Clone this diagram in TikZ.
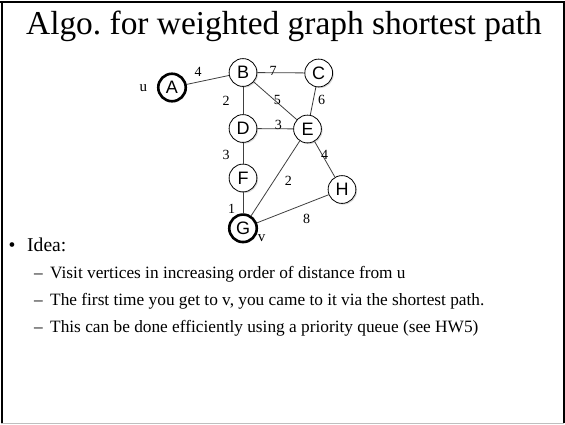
\documentclass[tikz,border=0pt]{standalone}
\usepackage{fontspec}
\setmainfont{Liberation Serif}
\newfontfamily\vertexfont{Liberation Sans}
\usetikzlibrary{shadows}
\frenchspacing
\tikzset{
    vertex/.style = {draw, circle, fill=white, line width=0.8pt, minimum size=27.8pt, inner sep=0pt, font=\vertexfont\fontsize{18}{18}\selectfont, drop shadow={shadow xshift=1.2pt, shadow yshift=-1.2pt, opacity=0.3}},
    end-vertex/.style = {vertex, line width=2.6pt, minimum size=27.5pt},
    weight/.style = {font=\fontsize{14}{14}\selectfont, inner sep=0pt},
    edge/.style = {draw=black!75, line width=0.8pt},
    item/.style = {anchor=base west, inner sep=0pt, font=\fontsize{17.3}{17.3}\selectfont},
}

\begin{document}
\begin{tikzpicture}[x=1pt, y=-1pt]
% slide frame
\useasboundingbox (0,0) rectangle (565,424);
\fill[white] (0,0) rectangle (565,424);
\draw[black!25, line width=1.2pt] (1,423.4) -- (564,423.4);
\draw[black, line width=1.2pt] (564,1) -- (564,423);
\draw[black, line width=2pt] (1.5,2) -- (1.5,423);
\draw[black, line width=2.4pt] (0,2) -- (565,2);
% title
\node[anchor=base, inner sep=0pt, font=\fontsize{33.4}{33.4}\selectfont] (title) at (284,34) {Algo. for weighted graph shortest path};
% vertices
\node[end-vertex] (A) at (172,87.5) {A};
\node[vertex] (B) at (243,72.5) {B};
\node[vertex] (C) at (318.7,73) {C};
\node[vertex] (D) at (243,128.5) {D};
\node[vertex] (E) at (307.5,129) {E};
\node[vertex] (F) at (243,178) {F};
\node[vertex] (H) at (342,189.5) {H};
\node[end-vertex] (G) at (243,228.3) {G};
\node[weight, font=\fontsize{15}{15}\selectfont] (u) at (143.3,88.5) {u};
\node[weight, font=\fontsize{15}{15}\selectfont] (v) at (261.5,238.5) {v};
% edges
\path[edge] (A) -- (B);
\path[edge] (B) -- (C);
\path[edge] (B) -- (D);
\path[edge] (B) -- (E);
\path[edge] (C) -- (E);
\path[edge] (D) -- (E);
\path[edge] (D) -- (F);
\path[edge] (E) -- (H);
\path[edge] (E) -- (G);
\path[edge] (F) -- (G);
\path[edge] (G) -- (H);
% weights
\node[weight] (wAB) at (198,71.5) {4};
\node[weight] (wBC) at (273,71) {7};
\node[weight] (wBD) at (226,100.5) {2};
\node[weight] (wBE) at (277.3,99.5) {5};
\node[weight] (wCE) at (321.5,99.5) {6};
\node[weight] (wDE) at (278.3,124.5) {3};
\node[weight] (wDF) at (226,155) {3};
\node[weight] (wEH) at (324.5,155) {4};
\node[weight] (wEG) at (288.3,180.5) {2};
\node[weight] (wFG) at (231.7,208.5) {1};
\node[weight] (wGH) at (306.7,218.5) {8};
% bullets
\node[anchor=base west, inner sep=0pt, font=\fontsize{19.6}{19.6}\selectfont] (idea) at (27,251.7) {Idea:};
\node[anchor=base, inner sep=0pt, font=\fontsize{19.6}{19.6}\selectfont] (dot) at (12,251.7) {•};
\foreach \txt [count=\i] in {{Visit vertices in increasing order of distance from u},
    {The first time you get to v, you came to it via the shortest path.},
    {This can be done efficiently using a priority queue (see HW5)}} {
    \node[item] (sub\i) at (50,251+27*\i) {\txt};
    \node[item] (dash\i) at (34,251+27*\i) {–};
}
\end{tikzpicture}
\end{document}
